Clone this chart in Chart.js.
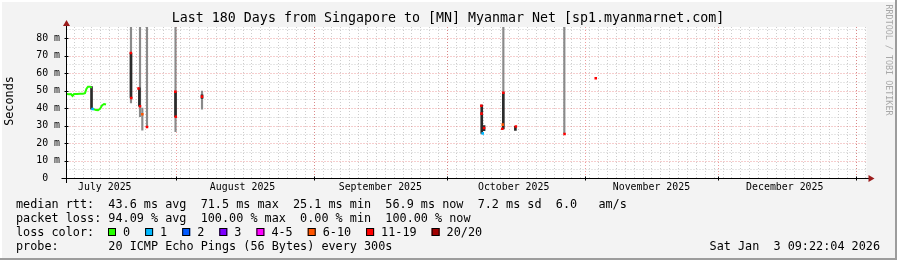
<!DOCTYPE html>
<html>
<head>
<meta charset="utf-8">
<script src="https://cdn.jsdelivr.net/npm/chart.js"></script>
<style>
  html, body { margin: 0; padding: 0; background: #f3f3f3; }
  canvas { display: block; }
</style>
</head>
<body>
<canvas id="smoke" width="897" height="260"></canvas>
<script>
// x values are days since the left edge of the graph (Jul 7 2025 09:22)
var rangeDays = 180;
var yMax = 86.3;

var titleText = "Last 180 Days from Singapore to [MN] Myanmar Net [sp1.myanmarnet.com]";
var monthNames = ["July 2025", "August 2025", "September 2025", "October 2025", "November 2025", "December 2025"];
var monthLabelDays = [8.61, 39.61, 70.61, 100.61, 131.61, 161.61];
var monthStartDays = [24.61, 55.61, 85.61, 116.61, 146.61, 177.61];
var yTicks = [0, 10, 20, 30, 40, 50, 60, 70, 80];
var yTickLabels = ["0  ", "10 m", "20 m", "30 m", "40 m", "50 m", "60 m", "70 m", "80 m"];

// median rtt while the link was up (ms)
var lineDays = [0.11, 0.56, 1.01, 1.35, 1.69, 2.36, 3.04, 3.71, 4.16, 4.50, 4.84, 5.29, 5.51, 5.63, 5.85, 6.19, 6.64, 7.09, 7.54, 7.99, 8.44, 8.89, 9.11];
var lineVals = [48.0, 47.9, 48.0, 46.9, 48.0, 48.0, 48.1, 48.2, 48.5, 51.0, 52.2, 52.2, 52.0, null, 39.4, 39.3, 38.9, 38.8, 39.5, 41.5, 42.3, 42.0, 42.0];
var lineLoss = [0, 0, 0, 0, 0, 0, 0, 0, 0, 0, 0, 0, 0, 0, 1, 0, 0, 0, 0, 0, 0, 0, 0];

// isolated median samples later on
var dotDays = [14.47, 14.58, 16.20, 16.54, 17.06, 18.11, 24.48, 24.59, 30.49, 93.34, 93.38, 93.65, 93.95, 98.06, 98.15, 98.29, 101.1, 112.06, 119.08];
var dotVals = [71.4, 45.7, 51.2, 41.0, 36.4, 29.1, 49.3, 35.0, 46.5, 41.3, 36.8, 25.5, 28.6, 28.2, 30.5, 48.7, 29.4, 25.2, 57.0];
var dotLoss = [6, 6, 6, 6, 5, 6, 6, 6, 6, 6, 6, 1, 6, 6, 5, 6, 6, 6, 6];

// smoke: spread of single pings
var smokeDays = [14.51, 16.54, 17.06, 18.11, 24.53, 30.49, 98.29, 112.01];
var smokeLow = [42.9, 35.0, 27.4, 29.3, 26.5, 39.3, 48.7, 25.5];
var smokeHigh = [86.3, 86.3, 40.0, 86.3, 86.3, 49.7, 86.3, 86.3];

var coreDays = [5.63, 14.51, 16.4, 24.53, 30.49, 93.43, 93.95, 98.29, 101.0];
var coreLow = [39.4, 45.7, 41.0, 35.0, 45.5, 25.5, 27.0, 28.0, 27.2];
var coreHigh = [52.2, 71.4, 51.6, 49.3, 47.5, 41.7, 30.0, 48.7, 29.5];

var lossNames = ["0", "1", "2", "3", "4-5", "6-10", "11-19", "20/20"];
var lossColors = ["#26ff00", "#00b8ff", "#0059ff", "#7e00ff", "#ff00ff", "#ff5500", "#ff0000", "#a10000"];

var statLines = [
    "median rtt:  43.6 ms avg  71.5 ms max  25.1 ms min  56.9 ms now  7.2 ms sd  6.0   am/s",
    "packet loss: 94.09 % avg  100.00 % max  0.00 % min  100.00 % now",
    "loss color:",
    "probe:       20 ICMP Echo Pings (56 Bytes) every 300s"
];
var dateText = "Sat Jan  3 09:22:04 2026";
var creditText = "RRDTOOL / TOBI OETIKER";

var mono = "'DejaVu Sans Mono', monospace";

function toPoints(xs, ys) {
    var out = [];
    for (var i = 0; i < xs.length; i++) out.push({x: xs[i], y: ys[i]});
    return out;
}

function toRanges(xs, lo, hi) {
    var out = [];
    for (var i = 0; i < xs.length; i++) out.push({x: xs[i], y: [lo[i], hi[i]]});
    return out;
}

function line(ctx, x1, y1, x2, y2) {
    ctx.beginPath();
    ctx.moveTo(x1, y1);
    ctx.lineTo(x2, y2);
    ctx.stroke();
}

var rrdFrame = {
    id: 'rrdframe',
    beforeDraw: function(chart) {
        var ctx = chart.ctx, a = chart.chartArea;
        var xs = chart.scales.x, ys = chart.scales.y;
        var W = chart.width, H = chart.height;
        ctx.save();
        ctx.fillStyle = '#f3f3f3';
        ctx.fillRect(0, 0, W, H);
        // shaded border
        ctx.fillStyle = '#ffffff';
        ctx.fillRect(0, 0, W, 2);
        ctx.fillRect(0, 0, 2, H);
        ctx.fillStyle = '#9c9c9c';
        ctx.fillRect(0, H - 2, W, 2);
        ctx.fillRect(W - 2, 0, 2, H);

        ctx.fillStyle = '#ffffff';
        ctx.fillRect(a.left, a.top, a.right - a.left, a.bottom - a.top);

        ctx.lineWidth = 1;
        // minor grid
        ctx.strokeStyle = '#cdcdcd';
        ctx.setLineDash([1, 2]);
        for (var d = -0.39; d < rangeDays; d += 2) {
            if (d <= 0) continue;
            var px = Math.round(xs.getPixelForValue(d)) + 0.5;
            line(ctx, px, a.top, px, a.bottom);
        }
        for (var v = 5; v < yMax; v += 10) {
            var py = Math.round(ys.getPixelForValue(v)) + 0.5;
            line(ctx, a.left, py, a.right, py);
        }
        // major grid
        ctx.strokeStyle = 'rgba(225, 90, 90, 0.6)';
        for (var i = 0; i < monthStartDays.length; i++) {
            var mx = Math.round(xs.getPixelForValue(monthStartDays[i])) + 0.5;
            line(ctx, mx, a.top, mx, a.bottom);
        }
        for (var j = 1; j < yTicks.length; j++) {
            var my = Math.round(ys.getPixelForValue(yTicks[j])) + 0.5;
            line(ctx, a.left, my, a.right, my);
        }
        ctx.restore();
    },
    afterDraw: function(chart) {
        var ctx = chart.ctx, a = chart.chartArea;
        var xs = chart.scales.x, ys = chart.scales.y;
        ctx.save();
        ctx.setLineDash([]);
        ctx.lineWidth = 1;
        ctx.strokeStyle = '#000000';
        var ax = Math.round(a.left) - 0.5, ay = Math.round(a.bottom) + 0.5;
        line(ctx, a.left - 5, ay, a.right + 4, ay);
        line(ctx, ax, a.bottom + 5, ax, a.top - 3);
        // ticks on axes
        for (var j = 1; j < yTicks.length; j++) {
            var ty = Math.round(ys.getPixelForValue(yTicks[j])) + 0.5;
            line(ctx, ax - 2, ty, ax + 2, ty);
        }
        for (var i = 0; i < monthStartDays.length; i++) {
            var tx = Math.round(xs.getPixelForValue(monthStartDays[i])) + 0.5;
            line(ctx, tx, ay - 2, tx, ay + 2);
        }
        // arrows
        ctx.fillStyle = '#9b1c1c';
        ctx.beginPath();
        ctx.moveTo(a.right + 2, ay - 3.5);
        ctx.lineTo(a.right + 8, ay);
        ctx.lineTo(a.right + 2, ay + 3.5);
        ctx.fill();
        ctx.beginPath();
        ctx.moveTo(ax - 3.5, a.top - 1);
        ctx.lineTo(ax, a.top - 7);
        ctx.lineTo(ax + 3.5, a.top - 1);
        ctx.fill();

        ctx.fillStyle = '#000000';
        // title
        ctx.font = '13.3px ' + mono;
        ctx.textAlign = 'center';
        ctx.textBaseline = 'middle';
        ctx.fillText(titleText, 448, 18.5);

        // axis labels
        ctx.font = '9.9px ' + mono;
        for (var m = 0; m < monthNames.length; m++) {
            ctx.fillText(monthNames[m], xs.getPixelForValue(monthLabelDays[m]), 187.5);
        }
        ctx.textAlign = 'right';
        for (var k = 0; k < yTicks.length; k++) {
            ctx.fillText(yTickLabels[k], 60, ys.getPixelForValue(yTicks[k]));
        }

        // y title
        ctx.save();
        ctx.font = '11.8px ' + mono;
        ctx.textAlign = 'center';
        ctx.translate(10, 101);
        ctx.rotate(-Math.PI / 2);
        ctx.fillText('Seconds', 0, 0);
        ctx.restore();

        // credit
        ctx.save();
        ctx.fillStyle = '#a8a8a8';
        ctx.font = '8.4px ' + mono;
        ctx.textAlign = 'center';
        ctx.translate(888, 60);
        ctx.rotate(Math.PI / 2);
        ctx.fillText(creditText, 0, 0);
        ctx.restore();

        // statistics
        ctx.font = '11.8px ' + mono;
        ctx.textAlign = 'left';
        for (var r = 0; r < statLines.length; r++) {
            ctx.fillText(statLines[r], 16, 204.5 + r * 14);
        }
        ctx.textAlign = 'right';
        ctx.fillText(dateText, 880, 246.5);

        // loss colour swatches
        ctx.textAlign = 'left';
        var sx = 108;
        for (var q = 0; q < lossNames.length; q++) {
            ctx.fillStyle = lossColors[q];
            ctx.fillRect(sx, 228, 8, 8);
            ctx.strokeStyle = '#000000';
            ctx.strokeRect(sx + 0.5, 228.5, 7, 7);
            ctx.fillStyle = '#000000';
            ctx.fillText(lossNames[q], sx + 15, 232.5);
            sx += 30 + 7.1 * lossNames[q].length;
        }
        ctx.restore();
    }
};

var ctx = document.getElementById('smoke').getContext('2d');
var chart = new Chart(ctx, {
    type: 'bar',
    data: {
        datasets: [
            {
                type: 'line',
                label: 'median',
                data: toPoints(lineDays, lineVals),
                borderColor: lossColors[0],
                borderWidth: 2,
                spanGaps: false,
                tension: 0,
                segment: {
                    borderColor: function(c) { return lossColors[lineLoss[c.p0DataIndex]]; }
                },
                pointStyle: 'rect',
                pointRadius: function(c) { return lineLoss[c.dataIndex] ? 1.8 : 0; },
                pointBackgroundColor: function(c) { return lossColors[lineLoss[c.dataIndex]]; },
                pointBorderWidth: 0,
                order: 0
            },
            {
                type: 'line',
                label: 'samples',
                data: toPoints(dotDays, dotVals),
                showLine: false,
                pointStyle: 'rect',
                pointRadius: 1.8,
                pointBackgroundColor: function(c) { return lossColors[dotLoss[c.dataIndex]]; },
                pointBorderWidth: 0,
                order: 1
            },
            {
                label: 'core',
                data: toRanges(coreDays, coreLow, coreHigh),
                backgroundColor: '#2a2a2a',
                barThickness: 2,
                grouped: false,
                order: 2
            },
            {
                label: 'smoke',
                data: toRanges(smokeDays, smokeLow, smokeHigh),
                backgroundColor: '#8a8a8a',
                barThickness: 1.5,
                grouped: false,
                order: 3
            }
        ]
    },
    options: {
        responsive: false,
        animation: false,
        devicePixelRatio: 1,
        layout: { padding: { left: 66.5, right: 30.5, top: 27, bottom: 82 } },
        scales: {
            x: { type: 'linear', min: 0, max: rangeDays, offset: false, display: false },
            y: { min: 0, max: yMax, display: false }
        },
        plugins: {
            legend: { display: false },
            tooltip: { enabled: false }
        }
    },
    plugins: [rrdFrame]
});
</script>
</body>
</html>
